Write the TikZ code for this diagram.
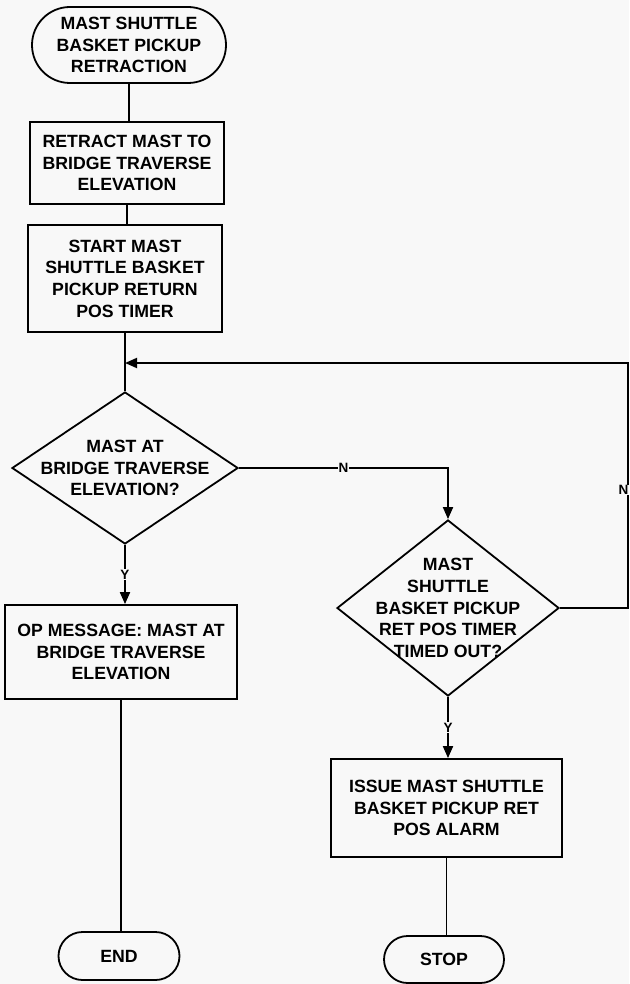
\documentclass[tikz,border=0pt]{standalone}
\usepackage{fontspec}
\setmainfont{Liberation Sans}
\usetikzlibrary{arrows.meta,shapes.geometric,shapes.misc}

\definecolor{paper}{RGB}{248,248,248}

\begin{document}
\begin{tikzpicture}[x=1pt,y=-1pt,
  every node/.style={font=\fontsize{17.7}{21.7}\selectfont\bfseries},
  base/.style={draw, line width=1.8pt, inner sep=0pt, align=center},
  term/.style={base, rounded rectangle},
  procbox/.style={base, rectangle},
  dec/.style={base, diamond},
  dectext/.style={align=center, inner sep=0pt},
  link/.style={line width=1.8pt},
  arr/.style={link, -{Triangle[length=12pt,width=10pt]}},
  yn/.style={font=\fontsize{13.5}{15}\selectfont\bfseries, fill=paper, inner sep=1pt},
]
\useasboundingbox[fill=paper] (0,0) rectangle (629,984);

% main column
\node[term, minimum width=194pt, minimum height=76pt] (start) at (129,45)
  {MAST SHUTTLE\\BASKET PICKUP\\RETRACTION};
\node[procbox, minimum width=194pt, minimum height=82pt] (b1) at (127,163)
  {RETRACT MAST TO\\BRIDGE TRAVERSE\\ELEVATION};
\node[procbox, minimum width=194pt, minimum height=107pt] (b2) at (125,278.5)
  {START MAST\\SHUTTLE BASKET\\PICKUP RETURN\\POS TIMER};
\node[dec, minimum width=226pt, minimum height=152pt] (d1) at (125,468) {};
\node[dectext] (d1t) at (d1.center) {MAST AT\\BRIDGE TRAVERSE\\ELEVATION?};
\node[procbox, minimum width=232pt, minimum height=94pt] (b3) at (121,652)
  {OP MESSAGE: MAST AT\\BRIDGE TRAVERSE\\ELEVATION};
\node[term, minimum width=121pt, minimum height=48pt] (end) at (119,956) {END};

% timeout branch
\node[dec, minimum width=222pt, minimum height=176pt] (d2) at (448,608) {};
\node[dectext] (d2t) at (d2.center) {MAST\\SHUTTLE\\BASKET PICKUP\\RET POS TIMER\\TIMED OUT?};
\node[procbox, minimum width=231pt, minimum height=98pt] (b4) at (446.5,808)
  {ISSUE MAST SHUTTLE\\BASKET PICKUP RET\\POS ALARM};
\node[term, minimum width=120pt, minimum height=47pt] (stop) at (444,959.5) {STOP};

% loop-back points
\coordinate (j) at (125,363);
\coordinate (rt) at (628,363);

% connectors
\draw[link] (start.south) -- (start.south |- b1.north);
\draw[link] (b1.south) -- (b1.south |- b2.north);
\draw[link] (b2.south) -- (d1.north);
\draw[arr] (d2.east) -- (d2.east -| rt) -- (rt) -- (j);
\node[yn, anchor=east, inner sep=0.5pt] (nr) at (629,490) {N};
\draw[arr] (d1.east) -- node[yn] (nl) {N} (d1.east -| d2.north) -- (d2.north);
\draw[arr] (d1.south) -- node[yn] (y1) {Y} (d1.south |- b3.north);
\draw[arr] (d2.south) -- node[yn] (y2) {Y} (d2.south |- b4.north);
\draw[link] (b3.south) -- (b3.south |- end.north);
\draw[link] (b4.south) -- (b4.south |- stop.north);
\end{tikzpicture}
\end{document}
